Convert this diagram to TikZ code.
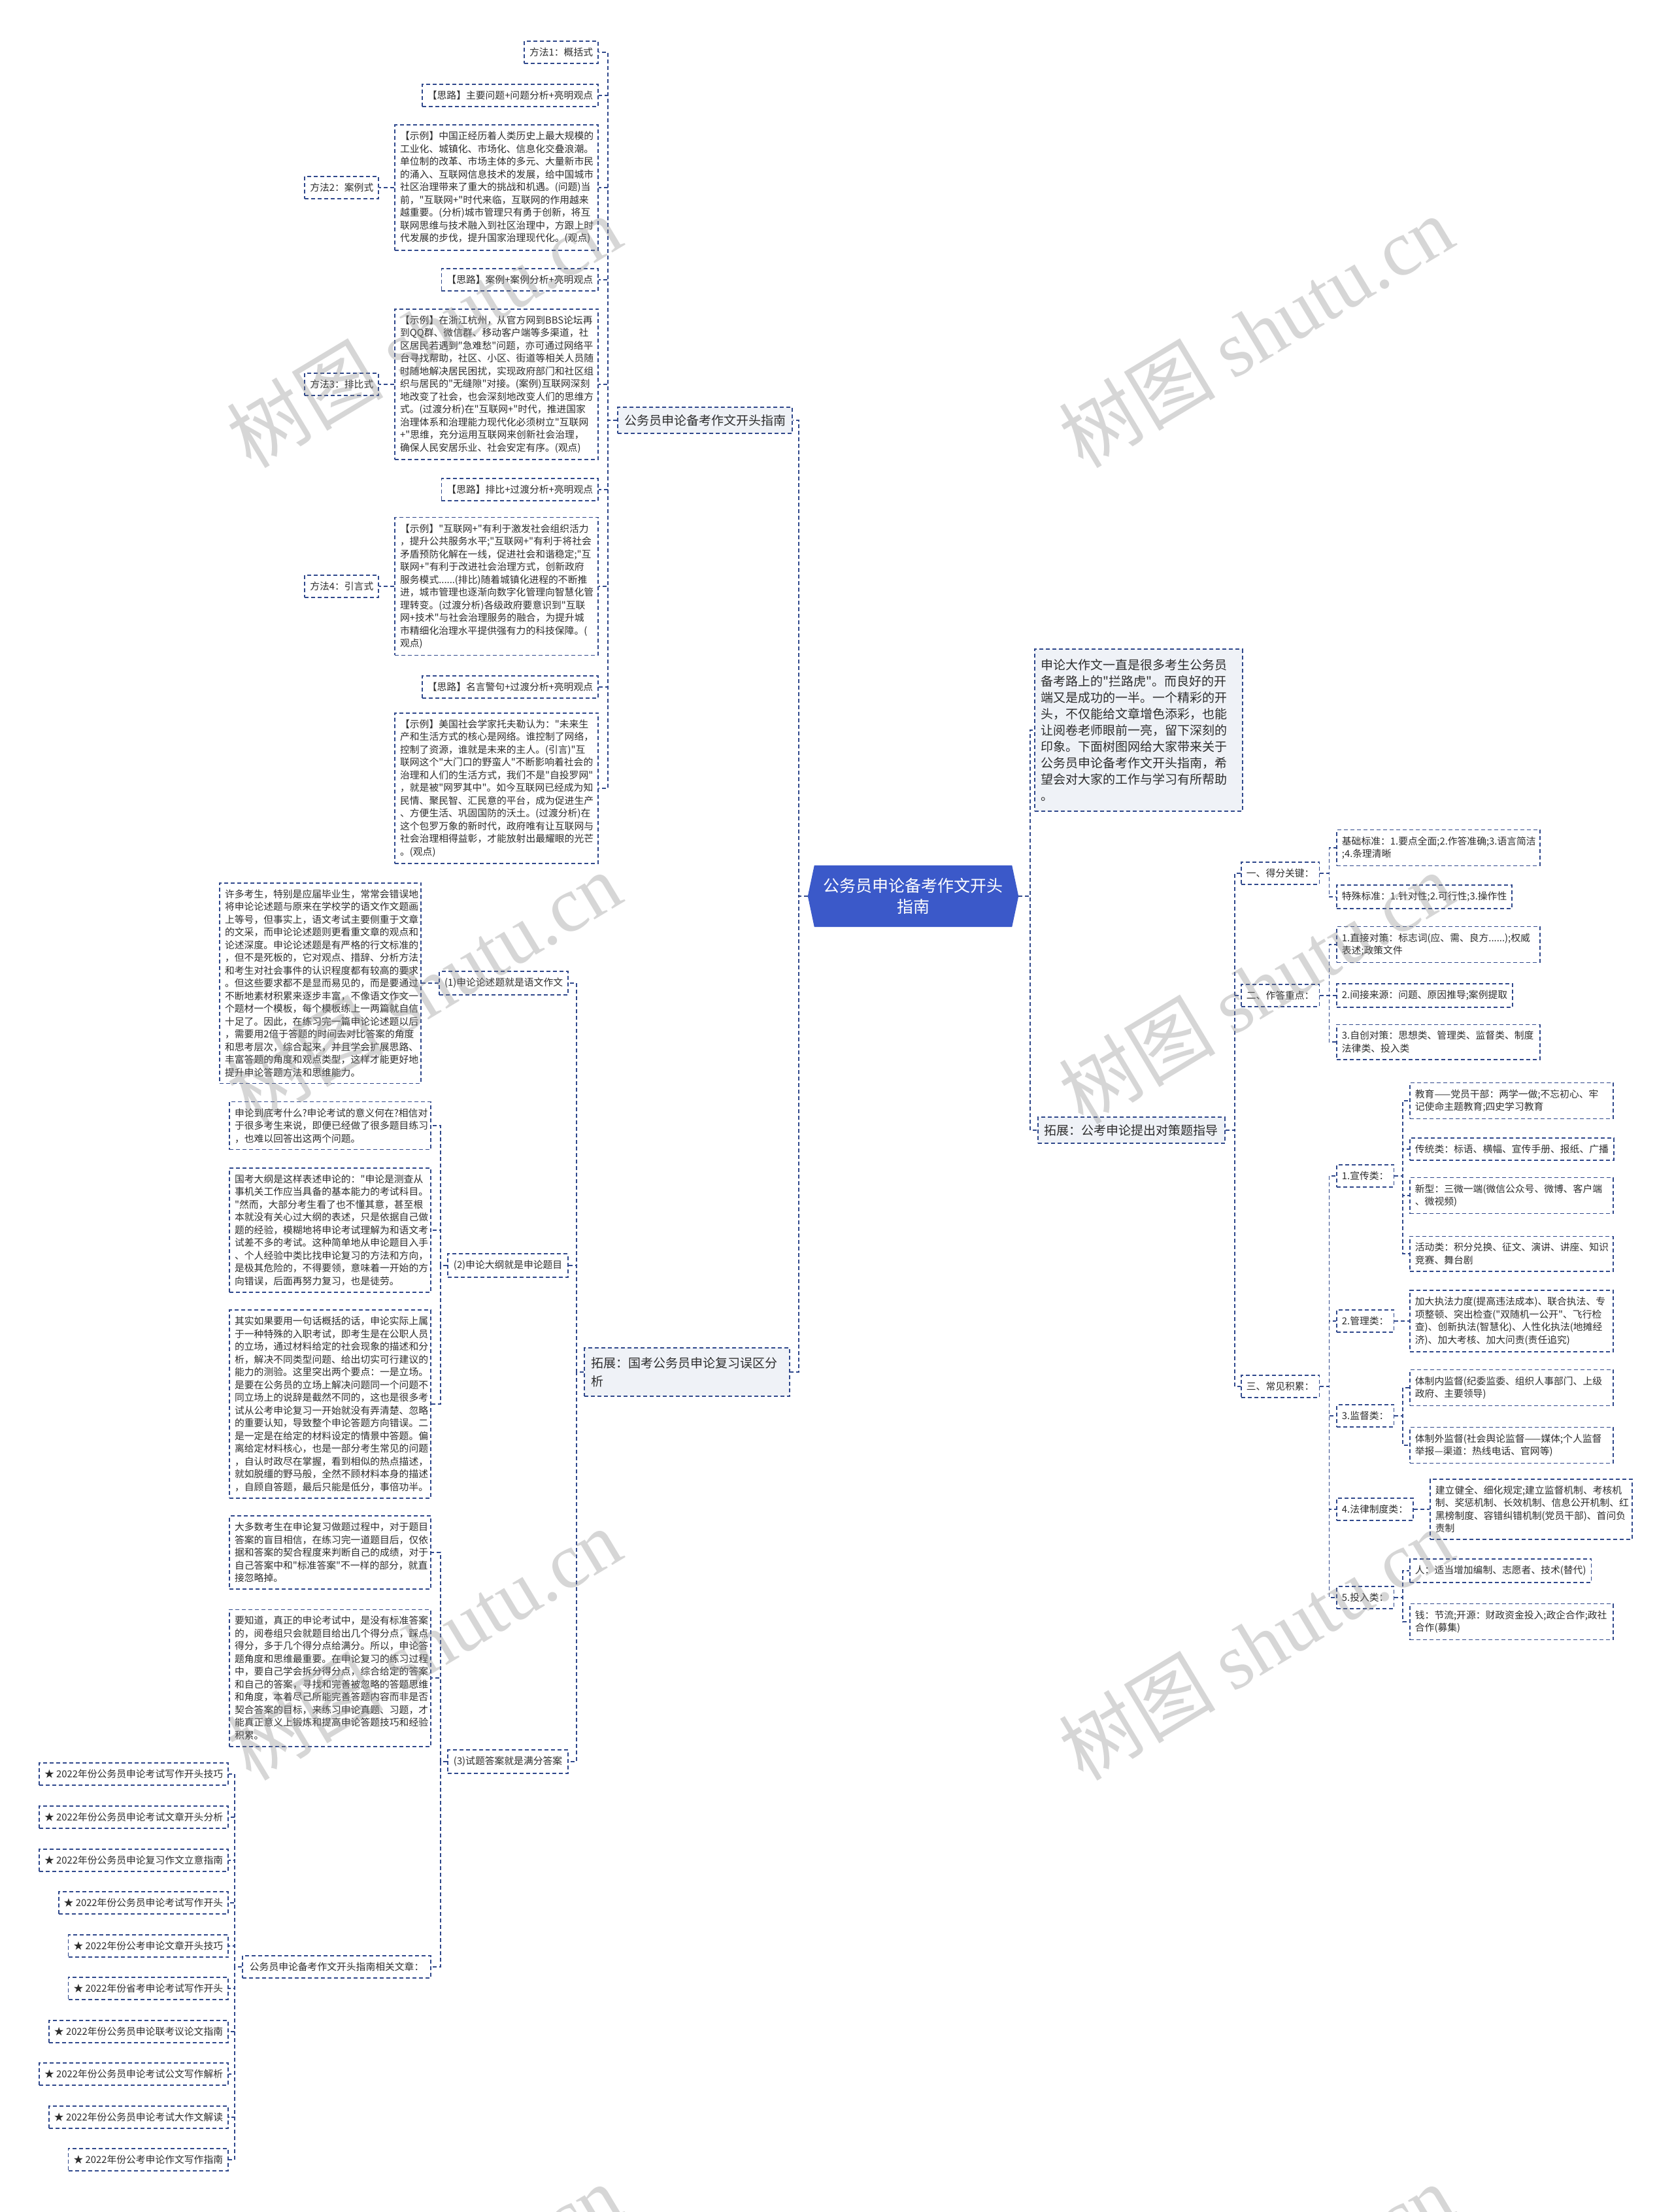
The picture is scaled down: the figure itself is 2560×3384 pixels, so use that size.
\documentclass[tikz,border=0pt]{standalone}
\usepackage{fontspec}
\setmainfont{Noto Sans CJK SC}
\newfontfamily\cjk{Noto Sans CJK SC}
\newfontfamily\wmserif{Liberation Serif}
\usetikzlibrary{calc}
\pgfdeclarelayer{bg}
\pgfsetlayers{bg,main}
\definecolor{lineblue}{RGB}{47,72,140}
\definecolor{nodefill}{RGB}{239,242,247}
\definecolor{rootblue}{RGB}{59,89,201}
\definecolor{txt}{RGB}{45,45,45}
\tikzset{
  dashline/.style={draw=lineblue, line width=1.8pt, dash pattern=on 6pt off 4pt},
  conn/.style={dashline},
  leaf/.style={dashline, fill=white, text=txt, font=\cjk\fontsize{14.8}{19.5}\selectfont, inner xsep=8pt, inner ysep=10pt, align=left},
  wbox/.style={leaf, text width=295pt},
  pbox/.style={leaf, text width=292pt},
  lvl/.style={dashline, fill=nodefill, text=txt, font=\cjk\fontsize{19}{25}\selectfont, inner xsep=10pt, inner ysep=11pt, align=left},
  rootnode/.style={text=white, font=\cjk\fontsize{25}{32}\selectfont, align=center, minimum width=302pt, minimum height=94pt, inner sep=0pt},
  qnode/.style={leaf, minimum width=184pt},
  wmark/.style={rotate=31, text=black!45, opacity=0.35, font=\cjk\fontsize{120}{120}\selectfont, inner sep=0pt}
}
\begin{document}
\begin{tikzpicture}[x=1pt,y=-1pt]
\begin{pgfonlayer}{bg}
\path[use as bounding box, fill=white] (0,0) rectangle (2560,3384);
\end{pgfonlayer}

% root
\node[rootnode] (root) at (1397,1371) {公务员申论备考作文开头\\指南};
\coordinate (rootL) at ($(root.west)+(-10,0)$);
\coordinate (rootR) at ($(root.east)+(10,0)$);
\begin{pgfonlayer}{bg}
\fill[rootblue] (root.north west) -- (root.north east) -- (rootR) -- (root.south east) -- (root.south west) -- (rootL) -- cycle;
\end{pgfonlayer}

% ---------- left branch 1 ----------
\node[lvl, anchor=east] (b1) at (1213,643) {公务员申论备考作文开头指南};

\node[leaf, anchor=east] (m1) at (916,80) {方法1：概括式};
\node[leaf, anchor=east] (s1) at (916,146) {【思路】主要问题+问题分析+亮明观点};
\node[wbox, anchor=east] (e1) at (916,287) {【示例】中国正经历着人类历史上最大规模的\\工业化、城镇化、市场化、信息化交叠浪潮。\\单位制的改革、市场主体的多元、大量新市民\\的涌入、互联网信息技术的发展，给中国城市\\社区治理带来了重大的挑战和机遇。(问题)当\\前，"互联网+"时代来临，互联网的作用越来\\越重要。(分析)城市管理只有勇于创新，将互\\联网思维与技术融入到社区治理中，方跟上时\\代发展的步伐，提升国家治理现代化。(观点)};
\node[leaf, anchor=east] (m2) at ($(e1.west)+(-23,0)$) {方法2：案例式};
\node[leaf, anchor=east] (s2) at (916,428) {【思路】案例+案例分析+亮明观点};
\node[wbox, anchor=east] (e2) at (916,588) {【示例】在浙江杭州，从官方网到BBS论坛再\\到QQ群、微信群、移动客户端等多渠道，社\\区居民若遇到"急难愁"问题，亦可通过网络平\\台寻找帮助，社区、小区、街道等相关人员随\\时随地解决居民困扰，实现政府部门和社区组\\织与居民的"无缝隙"对接。(案例)互联网深刻\\地改变了社会，也会深刻地改变人们的思维方\\式。(过渡分析)在"互联网+"时代，推进国家\\治理体系和治理能力现代化必须树立"互联网\\+"思维，充分运用互联网来创新社会治理，\\确保人民安居乐业、社会安定有序。(观点)};
\node[leaf, anchor=east] (m3) at ($(e2.west)+(-23,0)$) {方法3：排比式};
\node[leaf, anchor=east] (s3) at (916,749) {【思路】排比+过渡分析+亮明观点};
\node[wbox, anchor=east] (e3) at (916,897) {【示例】"互联网+"有利于激发社会组织活力\\，提升公共服务水平;"互联网+"有利于将社会\\矛盾预防化解在一线，促进社会和谐稳定;"互\\联网+"有利于改进社会治理方式，创新政府\\服务模式......(排比)随着城镇化进程的不断推\\进，城市管理也逐渐向数字化管理向智慧化管\\理转变。(过渡分析)各级政府要意识到"互联\\网+技术"与社会治理服务的融合，为提升城\\市精细化治理水平提供强有力的科技保障。(\\观点)};
\node[leaf, anchor=east] (m4) at ($(e3.west)+(-23,0)$) {方法4：引言式};
\node[leaf, anchor=east] (s4) at (916,1051) {【思路】名言警句+过渡分析+亮明观点};
\node[wbox, anchor=east] (e4) at (916,1206) {【示例】美国社会学家托夫勒认为："未来生\\产和生活方式的核心是网络。谁控制了网络，\\控制了资源，谁就是未来的主人。(引言)"互\\联网这个"大门口的野蛮人"不断影响着社会的\\治理和人们的生活方式，我们不是"自投罗网"\\，就是被"网罗其中"。如今互联网已经成为知\\民情、聚民智、汇民意的平台，成为促进生产\\、方便生活、巩固国防的沃土。(过渡分析)在\\这个包罗万象的新时代，政府唯有让互联网与\\社会治理相得益彰，才能放射出最耀眼的光芒\\。(观点)};

% ---------- left branch 2 ----------
\node[lvl, anchor=east, text width=294pt, inner ysep=14pt, font=\cjk\fontsize{19}{28}\selectfont] (b2) at (1209,2099) {拓展：国考公务员申论复习误区分\\析};

\node[qnode, anchor=east, minimum width=188pt] (q1) at (870,1504) {(1)申论论述题就是语文作文};
\node[pbox, anchor=east] (p1) at (645,1504) {许多考生，特别是应届毕业生，常常会错误地\\将申论论述题与原来在学校学的语文作文题画\\上等号，但事实上，语文考试主要侧重于文章\\的文采，而申论论述题则更看重文章的观点和\\论述深度。申论论述题是有严格的行文标准的\\，但不是死板的，它对观点、措辞、分析方法\\和考生对社会事件的认识程度都有较高的要求\\。但这些要求都不是显而易见的，而是要通过\\不断地素材积累来逐步丰富，不像语文作文一\\个题材一个模板，每个模板练上一两篇就自信\\十足了。因此，在练习完一篇申论论述题以后\\，需要用2倍于答题的时间去对比答案的角度\\和思考层次，综合起来，并且学会扩展思路、\\丰富答题的角度和观点类型，这样才能更好地\\提升申论答题方法和思维能力。};

\node[qnode, anchor=east] (q2) at (870,1936) {(2)申论大纲就是申论题目};
\node[pbox, anchor=east] (p2) at (660,1722) {申论到底考什么?申论考试的意义何在?相信对\\于很多考生来说，即便已经做了很多题目练习\\，也难以回答出这两个问题。};
\node[pbox, anchor=east] (p3) at (660,1882) {国考大纲是这样表述申论的："申论是测查从\\事机关工作应当具备的基本能力的考试科目。\\"然而，大部分考生看了也不懂其意，甚至根\\本就没有关心过大纲的表述，只是依据自己做\\题的经验，模糊地将申论考试理解为和语文考\\试差不多的考试。这种简单地从申论题目入手\\、个人经验中类比找申论复习的方法和方向，\\是极其危险的，不得要领，意味着一开始的方\\向错误，后面再努力复习，也是徒劳。};
\node[pbox, anchor=east] (p4) at (660,2148) {其实如果要用一句话概括的话，申论实际上属\\于一种特殊的入职考试，即考生是在公职人员\\的立场，通过材料给定的社会现象的描述和分\\析，解决不同类型问题、给出切实可行建议的\\能力的测验。这里突出两个要点：一是立场。\\是要在公务员的立场上解决问题同一个问题不\\同立场上的说辞是截然不同的，这也是很多考\\试从公考申论复习一开始就没有弄清楚、忽略\\的重要认知，导致整个申论答题方向错误。二\\是一定是在给定的材料设定的情景中答题。偏\\离给定材料核心，也是一部分考生常见的问题\\，自认时政尽在掌握，看到相似的热点描述，\\就如脱缰的野马般，全然不顾材料本身的描述\\，自顾自答题，最后只能是低分，事倍功半。};

\node[qnode, anchor=east] (q3) at (870,2695) {(3)试题答案就是满分答案};
\node[pbox, anchor=east] (p5) at (660,2375) {大多数考生在申论复习做题过程中，对于题目\\答案的盲目相信，在练习完一道题目后，仅依\\据和答案的契合程度来判断自己的成绩，对于\\自己答案中和"标准答案"不一样的部分，就直\\接忽略掉。};
\node[pbox, anchor=east] (p6) at (660,2567) {要知道，真正的申论考试中，是没有标准答案\\的，阅卷组只会就题目给出几个得分点，踩点\\得分，多于几个得分点给满分。所以，申论答\\题角度和思维最重要。在申论复习的练习过程\\中，要自己学会拆分得分点，综合给定的答案\\和自己的答案，寻找和完善被忽略的答题思维\\和角度，本着尽己所能完善答题内容而非是否\\契合答案的目标，来练习申论真题、习题，才\\能真正意义上锻炼和提高申论答题技巧和经验\\积累。};
\node[leaf, anchor=east, minimum width=288pt] (rel) at (660,3009) {公务员申论备考作文开头指南相关文章：};

\node[leaf, anchor=east] (t1) at (350,2714) {★ 2022年份公务员申论考试写作开头技巧};
\node[leaf, anchor=east] (t2) at (350,2780) {★ 2022年份公务员申论考试文章开头分析};
\node[leaf, anchor=east] (t3) at (350,2846) {★ 2022年份公务员申论复习作文立意指南};
\node[leaf, anchor=east] (t4) at (350,2911) {★ 2022年份公务员申论考试写作开头};
\node[leaf, anchor=east] (t5) at (350,2977) {★ 2022年份公考申论文章开头技巧};
\node[leaf, anchor=east] (t6) at (350,3042) {★ 2022年份省考申论考试写作开头};
\node[leaf, anchor=east] (t7) at (350,3108) {★ 2022年份公务员申论联考议论文指南};
\node[leaf, anchor=east] (t8) at (350,3173) {★ 2022年份公务员申论考试公文写作解析};
\node[leaf, anchor=east] (t9) at (350,3239) {★ 2022年份公务员申论考试大作文解读};
\node[leaf, anchor=east] (t10) at (350,3304) {★ 2022年份公考申论作文写作指南};

% ---------- right side ----------
\node[lvl, anchor=west, text width=298pt, inner ysep=15pt] (intro) at (1582,1117) {申论大作文一直是很多考生公务员\\备考路上的"拦路虎"。而良好的开\\端又是成功的一半。一个精彩的开\\头，不仅能给文章增色添彩，也能\\让阅卷老师眼前一亮，留下深刻的\\印象。下面树图网给大家带来关于\\公务员申论备考作文开头指南，希\\望会对大家的工作与学习有所帮助\\。};
\node[lvl, anchor=west] (r1) at (1587,1729) {拓展：公考申论提出对策题指导};

\node[leaf, anchor=west] (k1) at (1898,1336) {一、得分关键：};
\node[leaf, anchor=west] (k2) at (1898,1523) {二、作答重点：};
\node[leaf, anchor=west] (k3) at (1898,2121) {三、常见积累：};

\node[wbox, anchor=west] (a1) at (2044,1297) {基础标准：1.要点全面;2.作答准确;3.语言简洁\\;4.条理清晰};
\node[leaf, anchor=west] (a2) at (2044,1372) {特殊标准：1.针对性;2.可行性;3.操作性};
\node[wbox, anchor=west] (a3) at (2044,1445) {1.直接对策：标志词(应、需、良方......);权威\\表述;政策文件};
\node[leaf, anchor=west] (a4) at (2044,1523) {2.间接来源：问题、原因推导;案例提取};
\node[wbox, anchor=west] (a5) at (2044,1594) {3.自创对策：思想类、管理类、监督类、制度\\法律类、投入类};

\node[leaf, anchor=west] (c1) at (2044,1799) {1.宣传类：};
\node[leaf, anchor=west] (c2) at (2044,2021) {2.管理类：};
\node[leaf, anchor=west] (c3) at (2044,2166) {3.监督类：};
\node[leaf, anchor=west] (c4) at (2044,2309) {4.法律制度类：};
\node[leaf, anchor=west] (c5) at (2044,2444) {5.投入类：};

\node[wbox, anchor=west] (d1) at (2156,1684) {教育——党员干部：两学一做;不忘初心、牢\\记使命主题教育;四史学习教育};
\node[leaf, anchor=west] (d2) at (2156,1758) {传统类：标语、横幅、宣传手册、报纸、广播};
\node[wbox, anchor=west] (d3) at (2156,1829) {新型：三微一端(微信公众号、微博、客户端\\、微视频)};
\node[wbox, anchor=west] (d4) at (2156,1918) {活动类：积分兑换、征文、演讲、讲座、知识\\竞赛、舞台剧};
\node[wbox, anchor=west] (d5) at (2156,2021) {加大执法力度(提高违法成本)、联合执法、专\\项整顿、突出检查("双随机一公开"、飞行检\\查)、创新执法(智慧化)、人性化执法(地摊经\\济)、加大考核、加大问责(责任追究)};
\node[wbox, anchor=west] (d6) at (2156,2123) {体制内监督(纪委监委、组织人事部门、上级\\政府、主要领导)};
\node[wbox, anchor=west] (d7) at (2156,2211) {体制外监督(社会舆论监督——媒体;个人监督\\举报—渠道：热线电话、官网等)};
\node[leaf, anchor=west, text width=293pt] (d8) at (2187,2309) {建立健全、细化规定;建立监督机制、考核机\\制、奖惩机制、长效机制、信息公开机制、红\\黑榜制度、容错纠错机制(党员干部)、首问负\\责制};
\node[leaf, anchor=west] (d9) at (2156,2403) {人：适当增加编制、志愿者、技术(替代)};
\node[wbox, anchor=west] (d10) at (2156,2481) {钱：节流;开源：财政资金投入;政企合作;政社\\合作(募集)};

% ---------- connectors ----------
\draw[conn] (rootL) -- ++(-14,0) |- (b1.east);
\draw[conn] (rootL) -- ++(-14,0) |- (b2.east);
\foreach \n in {m1,s1,e1,s2,e2,s3,e3,s4,e4}
  \draw[conn] (b1.west) -- ++(-14,0) |- (\n.east);
\draw[conn] (e1.west) -- (m2.east);
\draw[conn] (e2.west) -- (m3.east);
\draw[conn] (e3.west) -- (m4.east);

\foreach \n in {q1,q2,q3}
  \draw[conn] (b2.west) -- ++(-11,0) |- (\n.east);
\draw[conn] (q1.west) -- (p1.east);
\foreach \n in {p2,p3,p4}
  \draw[conn] (q2.west) -- ++(-10,0) |- (\n.east);
\foreach \n in {p5,p6,rel}
  \draw[conn] (q3.west) -- ++(-10,0) |- (\n.east);
\foreach \n in {t1,t2,t3,t4,t5,t6,t7,t8,t9,t10}
  \draw[conn] (rel.west) -- ++(-11,0) |- (\n.east);

\draw[conn] (rootR) -- ++(18,0) |- (intro.west);
\draw[conn] (rootR) -- ++(18,0) |- (r1.west);
\foreach \n in {k1,k2,k3}
  \draw[conn] (r1.east) -- ++(14,0) |- (\n.west);
\foreach \n in {a1,a2}
  \draw[conn] (k1.east) -- ++(14,0) |- (\n.west);
\foreach \n in {a3,a4,a5}
  \draw[conn] (k2.east) -- ++(14,0) |- (\n.west);
\foreach \n in {c1,c2,c3,c4,c5}
  \draw[conn] (k3.east) -- ++(14,0) |- (\n.west);
\foreach \n in {d1,d2,d3,d4}
  \draw[conn] (c1.east) -- ++(13,0) |- (\n.west);
\draw[conn] (c2.east) -- (d5.west);
\foreach \n in {d6,d7}
  \draw[conn] (c3.east) -- ++(13,0) |- (\n.west);
\draw[conn] (c4.east) -- (d8.west);
\foreach \n in {d9,d10}
  \draw[conn] (c5.east) -- ++(13,0) |- (\n.west);

% ---------- watermark ----------
\begin{scope}
\clip (0,0) rectangle (2560,3384);
\foreach \x/\y [count=\i] in {648/507, 1921/507, 648/1511, 1921/1511, 648/2515, 1921/2515, 648/3518, 1921/3518}
  \node[wmark] (wm\i) at (\x,\y) {树图 {\wmserif shutu.cn}};
\end{scope}
\end{tikzpicture}
\end{document}
